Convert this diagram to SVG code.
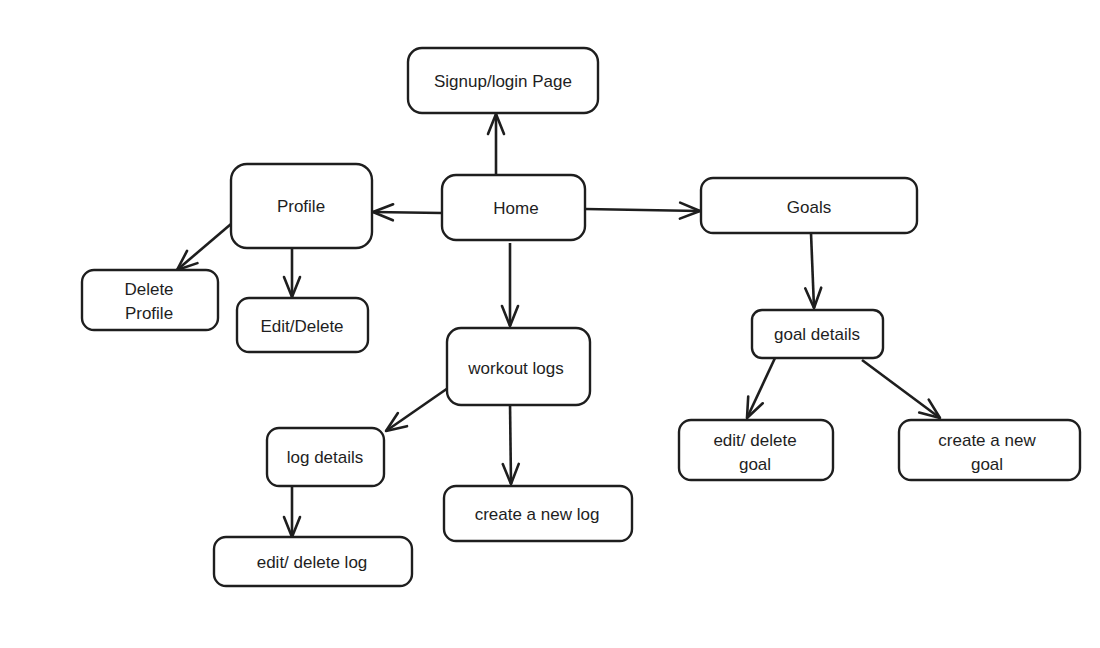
<svg xmlns="http://www.w3.org/2000/svg" width="1100" height="648" viewBox="0 0 1100 648">
<style>
.box{fill:#fff;stroke:#1e1e1e;stroke-width:2.4}
.lbl{font-family:"Liberation Sans","DejaVu Sans",sans-serif;font-size:17px;fill:#1e1e1e;text-anchor:middle;dominant-baseline:central}
.edge{fill:none;stroke:#1e1e1e;stroke-width:2.6;marker-end:url(#ah)}
</style>
<defs>
<marker id="ah" viewBox="0 0 24 24" refX="22" refY="12" markerWidth="24" markerHeight="24" markerUnits="userSpaceOnUse" orient="auto">
<path d="M2,4 L22,12 L2,20" fill="none" stroke="#1e1e1e" stroke-width="2.6" stroke-linecap="round" stroke-linejoin="round"/>
</marker>
</defs>
<rect width="1100" height="648" fill="#fff"/>
<g id="connectors">
<line class="edge" x1="496" y1="175" x2="496" y2="114"/>
<line class="edge" x1="442" y1="213" x2="373" y2="212"/>
<line class="edge" x1="585" y1="209" x2="700" y2="211"/>
<line class="edge" x1="510" y1="243" x2="510" y2="326"/>
<line class="edge" x1="231" y1="224" x2="177" y2="270"/>
<line class="edge" x1="292" y1="248" x2="292" y2="297"/>
<line class="edge" x1="811" y1="233" x2="814" y2="308"/>
<line class="edge" x1="775" y1="358" x2="747" y2="418"/>
<line class="edge" x1="862" y1="360" x2="940" y2="418"/>
<line class="edge" x1="448" y1="388" x2="386" y2="431"/>
<line class="edge" x1="510" y1="403" x2="511" y2="484"/>
<line class="edge" x1="292" y1="486" x2="292" y2="537"/>
</g>
<g id="signup"><rect class="box" x="408" y="48" width="190" height="65" rx="14"/><text class="lbl" x="503" y="81">Signup/login Page</text></g>
<g id="home"><rect class="box" x="442" y="175" width="143" height="65" rx="14"/><text class="lbl" x="516" y="208">Home</text></g>
<g id="profile"><rect class="box" x="231" y="164" width="141" height="84" rx="16"/><text class="lbl" x="301" y="206">Profile</text></g>
<g id="goals"><rect class="box" x="701" y="178" width="216" height="55" rx="12"/><text class="lbl" x="809" y="207">Goals</text></g>
<g id="deleteProfile"><rect class="box" x="82" y="270" width="136" height="60" rx="12"/><text class="lbl" x="149" y="289">Delete</text><text class="lbl" x="149" y="313">Profile</text></g>
<g id="editDelete"><rect class="box" x="237" y="298" width="131" height="54" rx="12"/><text class="lbl" x="302" y="326">Edit/Delete</text></g>
<g id="goalDetails"><rect class="box" x="752" y="310" width="131" height="48" rx="10"/><text class="lbl" x="817" y="334">goal details</text></g>
<g id="workoutLogs"><rect class="box" x="447" y="328" width="143" height="77" rx="14"/><text class="lbl" x="516" y="368">workout logs</text></g>
<g id="logDetails"><rect class="box" x="267" y="428" width="117" height="58" rx="12"/><text class="lbl" x="325" y="457">log details</text></g>
<g id="createLog"><rect class="box" x="444" y="486" width="188" height="55" rx="12"/><text class="lbl" x="537" y="514">create a new log</text></g>
<g id="editLog"><rect class="box" x="214" y="537" width="198" height="49" rx="12"/><text class="lbl" x="312" y="562">edit/ delete log</text></g>
<g id="editGoal"><rect class="box" x="679" y="420" width="154" height="60" rx="12"/><text class="lbl" x="755" y="440">edit/ delete</text><text class="lbl" x="755" y="464">goal</text></g>
<g id="createGoal"><rect class="box" x="899" y="420" width="181" height="60" rx="12"/><text class="lbl" x="987" y="440">create a new</text><text class="lbl" x="987" y="464">goal</text></g>
</svg>
